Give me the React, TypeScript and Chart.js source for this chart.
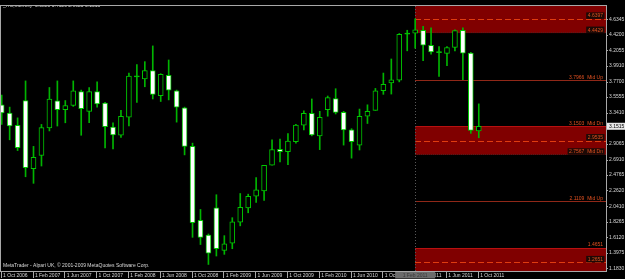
import React, { useEffect, useRef } from "react";
import { Chart, registerables } from "chart.js";

Chart.register(...registerables);

// ---------- DATA (monthly candles, Oct 2006 .. Oct 2011) ----------
const months = [
  "Oct 2006", "Nov 2006", "Dec 2006", "Jan 2007", "Feb 2007", "Mar 2007", "Apr 2007", "May 2007",
  "Jun 2007", "Jul 2007", "Aug 2007", "Sep 2007", "Oct 2007", "Nov 2007", "Dec 2007", "Jan 2008",
  "Feb 2008", "Mar 2008", "Apr 2008", "May 2008", "Jun 2008", "Jul 2008", "Aug 2008", "Sep 2008",
  "Oct 2008", "Nov 2008", "Dec 2008", "Jan 2009", "Feb 2009", "Mar 2009", "Apr 2009", "May 2009",
  "Jun 2009", "Jul 2009", "Aug 2009", "Sep 2009", "Oct 2009", "Nov 2009", "Dec 2009", "Jan 2010",
  "Feb 2010", "Mar 2010", "Apr 2010", "May 2010", "Jun 2010", "Jul 2010", "Aug 2010", "Sep 2010",
  "Oct 2010", "Nov 2010", "Dec 2010", "Jan 2011", "Feb 2011", "Mar 2011", "Apr 2011", "May 2011",
  "Jun 2011", "Jul 2011", "Aug 2011", "Sep 2011", "Oct 2011",
];

const opens = [
  3.449, 3.336, 3.163, 3.508, 2.565, 2.747, 3.128, 3.503, 3.381, 3.440, 3.631, 3.359, 3.631, 3.472, 3.141, 3.027,
  3.277, 3.835, 3.808, 3.925, 3.576, 3.857, 3.644, 3.408, 2.873, 1.849, 1.645, 2.021, 1.432, 1.531, 1.822, 2.021,
  2.184, 2.257, 2.611, 2.832, 2.801, 2.937, 3.168, 3.332, 3.019, 3.381, 3.536, 3.345, 3.104, 2.891, 3.291, 3.372,
  3.644, 3.753, 3.789, 4.433, 4.441, 4.482, 4.274, 4.175, 4.161, 4.243, 4.482, 4.165, 3.088,
];
const highs = [
  3.585, 3.417, 3.268, 3.780, 2.873, 3.177, 3.689, 3.780, 3.508, 3.780, 3.653, 3.689, 3.767, 3.485, 3.200, 3.372,
  3.889, 4.006, 4.047, 4.265, 3.880, 4.070, 3.653, 3.417, 2.918, 1.999, 1.659, 2.203, 1.636, 1.885, 2.220, 2.211,
  2.442, 2.611, 2.964, 2.973, 3.050, 3.177, 3.367, 3.530, 3.359, 3.571, 3.672, 3.359, 3.118, 3.390, 3.449, 3.676,
  3.889, 4.084, 4.437, 4.482, 4.641, 4.537, 4.515, 4.256, 4.256, 4.488, 4.515, 4.175, 3.462,
];
const lows = [
  3.177, 2.964, 2.815, 2.452, 2.361, 2.601, 3.087, 3.155, 3.200, 3.427, 3.027, 3.200, 3.417, 2.850, 2.837, 2.996,
  3.155, 3.481, 3.699, 3.530, 3.495, 3.517, 3.209, 2.755, 1.613, 1.513, 1.237, 1.354, 1.377, 1.455, 1.772, 1.953,
  2.098, 2.125, 2.611, 2.656, 2.619, 2.918, 3.100, 3.019, 2.828, 3.291, 3.322, 2.891, 2.710, 2.823, 3.190, 3.372,
  3.594, 3.598, 3.767, 4.197, 4.233, 4.061, 4.152, 3.843, 3.993, 4.197, 3.798, 3.054, 2.9925,
];
const closes = [
  3.336, 3.155, 2.856, 2.578, 2.720, 3.132, 3.530, 3.381, 3.440, 3.644, 3.394, 3.631, 3.462, 3.145, 3.032, 3.291,
  3.848, 3.842, 3.925, 3.594, 3.870, 3.653, 3.417, 2.873, 1.817, 1.613, 1.395, 1.455, 1.523, 1.826, 2.030, 2.180,
  2.271, 2.611, 2.828, 2.801, 2.945, 3.168, 3.332, 3.032, 3.277, 3.549, 3.345, 3.100, 2.937, 3.291, 3.359, 3.644,
  3.734, 3.794, 4.424, 4.428, 4.488, 4.274, 4.183, 4.172, 4.243, 4.478, 4.165, 3.095, 3.1515,
];

const xTickIndex = [0, 4, 8, 12, 16, 20, 24, 28, 32, 36, 40, 44, 48, 52, 56, 60];
const xTickLabels = [
  "1 Oct 2006", "1 Feb 2007", "1 Jun 2007", "1 Oct 2007", "1 Feb 2008", "1 Jun 2008", "1 Oct 2008", "1 Feb 2009",
  "1 Jun 2009", "1 Oct 2009", "1 Feb 2010", "1 Jun 2010", "1 Oct 2010", "1 Feb 2011", "1 Jun 2011", "1 Oct 2011",
];
const yTickValues = [
  4.6345, 4.42, 4.2055, 3.991, 3.77, 3.5555, 3.341, 3.1265, 2.9065, 2.691, 2.4765, 2.262, 2.041, 1.8265, 1.612, 1.3975, 1.183,
];
const yTickLabels = [
  "4.6345", "4.4200", "4.2055", "3.9910", "3.7700", "3.5555", "3.3410", "3.1265", "2.9065", "2.6910", "2.4765",
  "2.2620", "2.0410", "1.8265", "1.6120", "1.3975", "1.1830",
];

const headerText = "_HG,Monthly  3.0880 3.4620 2.9925 3.1515";
const footerText = "MetaTrader - Alpari UK, \u00A9 2001-2009 MetaQuotes Software Corp.";
const lastPrice = 3.1515;
const lastPriceLabel = "3.1515";

// zones (start at Feb 2011)
const zoneStartIndex = 52;
const zoneStartLabel = "1 Feb 2011";
const zoneUpper = [4.8365, 3.1503, 1.4651];
const zoneMid = [4.6397, 2.9535, 1.2651];
const zoneLower = [4.4429, 2.7567, 1.0715];
const zoneUpperText = ["", "3.1503  Mid Dn", "1.4651"];
const zoneMidText = ["4.6397", "2.9535", "1.2651"];
const zoneLowerText = ["4.4429", "2.7567  Mid Dn", ""];
const midLines = [3.7966, 2.1109];
const midLineText = ["3.7966  Mid Up", "2.1109  Mid Up"];

// ---------- STYLE ----------
const FONT = '"Liberation Sans", Arial, sans-serif';
const GREEN = "#00c800";
const WICK = "#00b400";
const FRAME = "#a8a8a8";
const TEXT = "#d8d8d8";
const ZONE_FILL = "#800000";
const ZONE_TXT = "#e05020";

const overlay = {
  id: "mtOverlay",
  beforeDatasetsDraw(chart: any) {
    const { ctx, chartArea: a, scales } = chart;
    const x = scales.x;
    const y = scales.y;
    ctx.save();
    ctx.beginPath();
    ctx.rect(a.left, a.top, a.right - a.left, a.bottom - a.top);
    ctx.clip();
    const x0 = Math.round(x.getPixelForValue(zoneStartIndex));
    const w = a.right - x0;
    ctx.font = `5px ${FONT}`;
    ctx.textAlign = "right";
    ctx.textBaseline = "alphabetic";
    for (let k = 0; k < zoneUpper.length; k++) {
      const yt = y.getPixelForValue(zoneUpper[k]);
      const ym = y.getPixelForValue(zoneMid[k]);
      const yb = y.getPixelForValue(zoneLower[k]);
      ctx.fillStyle = ZONE_FILL;
      ctx.fillRect(x0, yt, w, yb - yt);
      ctx.lineWidth = 1;
      ctx.strokeStyle = "#b81010";
      ctx.setLineDash([]);
      ctx.beginPath();
      ctx.moveTo(x0, Math.round(yt) + 0.5);
      ctx.lineTo(a.right, Math.round(yt) + 0.5);
      ctx.stroke();
      ctx.strokeStyle = "#5a1a1a";
      ctx.setLineDash([1, 1]);
      ctx.beginPath();
      ctx.moveTo(x0, Math.round(yb) - 0.5);
      ctx.lineTo(a.right, Math.round(yb) - 0.5);
      ctx.stroke();
      ctx.strokeStyle = "#e03c10";
      ctx.setLineDash([6, 3]);
      ctx.beginPath();
      ctx.moveTo(x0, Math.round(ym) + 0.5);
      ctx.lineTo(a.right, Math.round(ym) + 0.5);
      ctx.stroke();
      ctx.setLineDash([]);
      const labels: [string, number, boolean][] = [
        [zoneUpperText[k], yt, false],
        [zoneMidText[k], ym, true],
        [zoneLowerText[k], yb, true],
      ];
      for (const [t, yy, boxed] of labels) {
        if (!t) continue;
        const tw = ctx.measureText(t).width;
        const tx = a.right - 3;
        const ty = yy - 1.5;
        if (boxed) {
          ctx.fillStyle = "#1c0a06";
          ctx.fillRect(tx - tw - 1.5, ty - 5, tw + 3, 6.5);
        }
        ctx.fillStyle = ZONE_TXT;
        ctx.fillText(t, tx, ty);
      }
    }
    midLines.forEach((v, k) => {
      const yy = Math.round(y.getPixelForValue(v)) + 0.5;
      ctx.strokeStyle = "#902818";
      ctx.setLineDash([]);
      ctx.beginPath();
      ctx.moveTo(x0, yy);
      ctx.lineTo(a.right, yy);
      ctx.stroke();
      ctx.fillStyle = ZONE_TXT;
      ctx.fillText(midLineText[k], a.right - 3, yy - 2);
    });
    // vertical dotted time line
    ctx.strokeStyle = "#585858";
    ctx.setLineDash([1, 2]);
    ctx.beginPath();
    ctx.moveTo(x0 + 0.5, a.top);
    ctx.lineTo(x0 + 0.5, a.bottom);
    ctx.stroke();
    ctx.setLineDash([]);
    // header & footer
    ctx.textAlign = "left";
    ctx.textBaseline = "middle";
    ctx.fillStyle = TEXT;
    ctx.fillText(headerText, 3, 5.5);
    ctx.fillText(footerText, 3, 266);
    ctx.restore();
  },
  afterDraw(chart: any) {
    const { ctx, chartArea: a, scales } = chart;
    const x = scales.x;
    const y = scales.y;
    ctx.save();
    // frame
    ctx.strokeStyle = FRAME;
    ctx.lineWidth = 1;
    ctx.strokeRect(a.left - 0.5, a.top - 0.5, a.right - a.left + 1, a.bottom - a.top + 1);
    // tick marks
    ctx.beginPath();
    xTickIndex.forEach((v) => {
      const px = Math.round(x.getPixelForValue(v)) - 0.5;
      ctx.moveTo(px, a.bottom + 1);
      ctx.lineTo(px, a.bottom + 7);
    });
    yTickValues.forEach((v) => {
      const py = Math.round(y.getPixelForValue(v)) + 0.5;
      ctx.moveTo(a.right, py);
      ctx.lineTo(a.right + 2, py);
    });
    ctx.stroke();
    // current price label
    const py = y.getPixelForValue(lastPrice);
    ctx.fillStyle = "#e8e8e8";
    ctx.fillRect(a.right + 1, py - 3.5, 625 - a.right - 1, 7);
    ctx.fillStyle = "#000";
    ctx.font = `5px ${FONT}`;
    ctx.textAlign = "left";
    ctx.textBaseline = "middle";
    ctx.fillText(lastPriceLabel, a.right + 3, py);
    // time label box of the vertical line
    const cx = x.getPixelForValue(zoneStartIndex);
    ctx.fillStyle = "#6c6c6c";
    ctx.fillRect(cx - 20, a.bottom + 1, 40, 6.5);
    ctx.fillStyle = "#3a3a3a";
    ctx.textAlign = "center";
    ctx.fillText(zoneStartLabel, cx, a.bottom + 4.3);
    ctx.restore();
  },
};

export default function App() {
  const ref = useRef<HTMLCanvasElement>(null);
  useEffect(() => {
    document.body.style.margin = "0";
    document.body.style.background = "#000";
    const canvas = ref.current!;
    const idx = months.map((_, i) => i);
    const doji = idx.map((i) => Math.abs(opens[i] - closes[i]) < 0.012);
    const chart = new Chart(canvas, {
      type: "bar",
      data: {
        datasets: [
          {
            label: "wick",
            data: idx.map((i) => ({ x: i, y: [lows[i], highs[i]] })) as any,
            backgroundColor: WICK,
            borderWidth: 0,
            barThickness: 1,
            grouped: false,
            order: 2,
          },
          {
            label: "body",
            data: idx.map((i) => ({ x: i, y: [opens[i], closes[i]] })) as any,
            backgroundColor: idx.map((i) => (doji[i] ? GREEN : closes[i] < opens[i] ? "#ffffff" : "#000000")),
            borderColor: GREEN,
            borderWidth: 1,
            borderSkipped: false,
            barThickness: 5,
            minBarLength: 1,
            grouped: false,
            order: 1,
          },
        ],
      },
      options: {
        responsive: false,
        animation: false,
        events: [],
        devicePixelRatio: 1,
        layout: { padding: { left: 1, top: 1, right: 0, bottom: 0 } },
        plugins: { legend: { display: false }, tooltip: { enabled: false }, title: { display: false } },
        scales: {
          x: {
            type: "linear",
            position: "bottom",
            offset: false,
            min: -0.088,
            max: 76.0,
            grid: { display: false, drawTicks: false, tickLength: 0 },
            border: { display: false },
            afterBuildTicks: (s: any) => {
              s.ticks = xTickIndex.map((v) => ({ value: v }));
            },
            afterFit: (s: any) => {
              s.height = 8;
            },
            ticks: {
              autoSkip: false,
              maxRotation: 0,
              align: "start",
              padding: 1.5,
              color: TEXT,
              font: { family: FONT, size: 5 },
              callback: (_v: any, i: number) => " " + xTickLabels[i],
            },
          },
          y: {
            type: "linear",
            position: "right",
            min: 1.1463,
            max: 4.8181,
            grid: { display: false, drawTicks: false, tickLength: 0 },
            border: { display: false },
            afterBuildTicks: (s: any) => {
              s.ticks = yTickValues.map((v) => ({ value: v }));
            },
            afterFit: (s: any) => {
              s.width = 19;
            },
            ticks: {
              autoSkip: false,
              padding: 3,
              color: TEXT,
              font: { family: FONT, size: 5 },
              callback: (_v: any, i: number) => yTickLabels[i],
            },
          },
        },
      } as any,
      plugins: [overlay],
    });
    return () => chart.destroy();
  }, []);
  return (
    <div style={{ position: "fixed", left: 0, top: 0, width: 625, height: 279, background: "#000" }}>
      <canvas ref={ref} width={625} height={279} style={{ display: "block", width: 625, height: 279 }} />
    </div>
  );
}
